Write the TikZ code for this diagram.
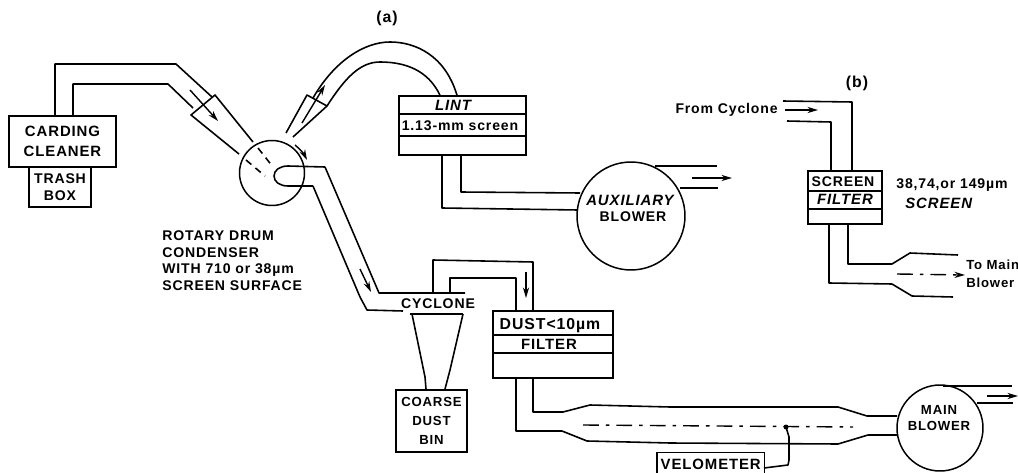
\documentclass[tikz,border=0pt]{standalone}
\usepackage{fontspec}
\setmainfont{Liberation Sans}
\newfontfamily\labelfont[LetterSpace=6]{Liberation Sans}
\usetikzlibrary{arrows.meta, positioning, calc}
\tikzset{
  unitbox/.style={
    draw, line width=0.85pt, inner sep=0pt, align=center,
    font=\labelfont\bfseries\fontsize{8.5}{9.6}\selectfont,
  },
  blower/.style={draw, circle, line width=0.85pt, inner sep=0pt, minimum size=#1},
  txt/.style={inner sep=0pt, font=\labelfont\bfseries\fontsize{#1}{9.6}\selectfont},
  txt/.default=8.5,
  itxt/.style={inner sep=0pt, font=\labelfont\bfseries\itshape\fontsize{8.5}{9.6}\selectfont},
  duct/.style={line width=0.9pt, line join=round},
  arw/.style={-{Stealth[length=6pt,width=3.5pt]}, line width=0.8pt},
  axis/.style={line width=0.8pt, dash pattern=on 9pt off 4pt on 2pt off 4pt},
}

\begin{document}
\begin{tikzpicture}[x=0.02cm, y=-0.02cm]
  \useasboundingbox (0,0) rectangle (1018,473);

  % Carding side
  \node[unitbox, minimum width=2.14cm, minimum height=1.02cm]
    (carding) at (62.5,141.5) {CARDING\\[1.5pt]CLEANER};
  \node[unitbox, minimum width=1.24cm, minimum height=0.8cm,
        font=\labelfont\bfseries\fontsize{8}{9.4}\selectfont]
    (trash) at (60,187) {TRASH\\BOX};
  \draw[duct] (55,0 |- carding.north) -- (55,64) -- (176,64) -- (212,97);
  \draw[duct] (73,0 |- carding.north) -- (73,84) -- (168,84) -- (193,108);
  \draw[duct] (239,154) -- (191,115) -- (215,95) -- (253,142);
  \draw[arw] (190,90) -- (218,121);

  % Rotary drum
  \node[blower=1.3cm] (drum) at (272,173) {};
  \draw[duct, dash pattern=on 4pt off 3pt] (258,148) -- (273,167);
  \draw[duct, dash pattern=on 4pt off 3pt] (246,160) -- (265,176);
  \draw[duct] (325,167) -- (288,166) .. controls (280,166) and (274,170) .. (274,176)
    .. controls (274,182) and (280,186) .. (288,186) -- (313,186);
  \draw[duct] (325,167) -- (352,230) -- (379,293) -- (465,293);
  \draw[duct] (313,186) -- (360,297) -- (367,310) -- (403,311);
  \draw[arw] (295,145) .. controls (300,149) and (304,154) .. (307,160);
  \draw[arw] (360,269) -- (371,292);
  \node[anchor=north west, align=left, inner sep=0pt,
        font=\labelfont\bfseries\fontsize{8}{9.6}\selectfont]
    (drumtxt) at (162,230) {ROTARY DRUM\\CONDENSER\\WITH 710 or 38µm\\SCREEN SURFACE};

  % Variant (a)
  \node[txt=9] (lbla) at (387,18) {(a)};
  \node[unitbox, minimum width=2.54cm, minimum height=1.18cm]
    (lint) at (462.5,125.5) {};
  \draw[duct] (lint.west |- 0,114) -- (lint.east |- 0,114);
  \draw[duct] (lint.west |- 0,136) -- (lint.east |- 0,136);
  \node[itxt] (linttxt) at (453,105) {LINT};
  \node[txt=8] (lintscreen) at (460,125.5) {1.13-mm screen};
  \draw[duct] (286,133) -- (307,95) -- (327,106) -- (293,137);
  \draw[arw] (302,123) -- (325,85);
  \draw[duct] (457,0 |- lint.north) .. controls (445,55) and (415,42) .. (390,42)
    .. controls (365,42) and (335,60) .. (313,98);
  \draw[duct] (440,0 |- lint.north) .. controls (428,70) and (405,62) .. (380,62)
    .. controls (360,62) and (345,78) .. (327,106);
  \draw[duct] (442,0 |- lint.south) -- (442,208) -- (578,210);
  \draw[duct] (461,0 |- lint.south) -- (461,192) -- (580,193);
  \node[blower=2.16cm] (aux) at (631,216) {};
  \node[itxt] (auxtxt) at (630,200) {AUXILIARY};
  \node[txt=8] (auxtxtb) at (633,217) {BLOWER};
  \draw[duct] (655,166) -- (717,166);
  \draw[duct] (680,188) -- (718,188);
  \draw[arw] (692,178) -- (732,178);

  % Cyclone and dust filter
  \node[txt=8] (cyclone) at (438,304) {CYCLONE};
  \draw[duct] (410,314) -- (463,314);
  \draw[duct] (412,314) -- (425,377) -- (426,389);
  \draw[duct] (463,314) -- (450,370) -- (445,389);
  \node[unitbox, minimum width=1.42cm, minimum height=1.24cm,
        font=\labelfont\bfseries\fontsize{7.5}{9.4}\selectfont]
    (coarse) at (431.5,421) {COARSE\\[1.5pt]DUST\\[1.5pt]BIN};
  \node[unitbox, minimum width=2.4cm, minimum height=1.34cm]
    (dust) at (553,344.5) {};
  \draw[duct] (dust.west |- 0,335) -- (dust.east |- 0,335);
  \draw[duct] (dust.west |- 0,353) -- (dust.east |- 0,353);
  \node[txt=9] (dusttxt) at (550,326) {DUST<10µm};
  \node[txt] (filtertxt) at (549,344) {FILTER};
  \draw[duct] (433,293) -- (433,260) -- (533,262) -- (533,0 |- dust.north);
  \draw[duct] (450,293) -- (450,278) -- (516,278) -- (516,0 |- dust.north);
  \draw[arw] (526,272) -- (526,298);

  % Main blower
  \draw[duct] (516,0 |- dust.south) -- (516,431) -- (562,431) -- (587,441) -- (670,443)
    -- (838,444) -- (868,435) -- (897,435);
  \draw[duct] (533,0 |- dust.south) -- (533,412) -- (563,412) -- (590,405) -- (670,407)
    -- (838,407) -- (867,416) -- (897,416);
  \draw[axis] (583,425) -- (853,427);
  \node[blower=1.72cm] (main) at (940,428) {};
  \node[txt=7.5, align=center] (maintxt) at (939,418) {MAIN\\BLOWER};
  \draw[duct] (943,386) -- (1012,386);
  \draw[duct] (977,403) -- (1013,403);
  \draw[arw] (987,396) -- (1018,396);
  \node[unitbox, minimum width=2.16cm, minimum height=0.46cm, anchor=north west]
    (velometer) at (656,452) {VELOMETER};
  \fill (786,427) circle (2.5);
  \draw[duct] (786,427) -- (789,437) -- (789,460) -- (788,465) -- (764,468);

  % Variant (b)
  \node[txt=9] (lblb) at (857,83) {(b)};
  \node[txt=8, anchor=east] (fromtxt) at (778,110) {From Cyclone};
  \node[unitbox, minimum width=1.48cm, minimum height=1.06cm]
    (screen) at (845,197.5) {};
  \draw[duct] (screen.west |- 0,191) -- (screen.east |- 0,191);
  \draw[duct] (screen.west |- 0,209) -- (screen.east |- 0,209);
  \node[txt=8] (screentxt) at (843,182) {SCREEN};
  \node[itxt] (screenftxt) at (845,199) {FILTER};
  \draw[duct] (783,101) -- (852,102) -- (852,0 |- screen.north);
  \draw[duct] (787,121) -- (831,122) -- (831,0 |- screen.north);
  \draw[arw] (785,110) -- (818,110);
  \node[txt=8, anchor=west] (sizetxt) at (896,185) {38,74,or 149µm};
  \node[itxt, anchor=west] (sizetxtb) at (905,203) {SCREEN};
  \draw[duct] (829,0 |- screen.south) -- (829,283) -- (892,284) -- (912,296) -- (953,297);
  \draw[duct] (848,0 |- screen.south) -- (848,264) -- (892,264) -- (910,253) -- (958,255);
  \draw[axis, -{Stealth[length=6pt,width=3.5pt]}] (897,274) -- (965,275);
  \node[txt=7.5, anchor=west] (totxt) at (966,265) {To Main};
  \node[txt=7.5, anchor=west] (totxtb) at (966,283) {Blower};
\end{tikzpicture}
\end{document}
